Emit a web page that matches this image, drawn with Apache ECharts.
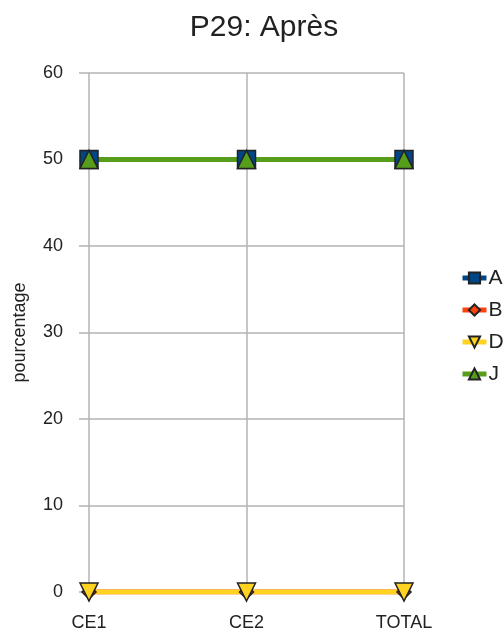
<!DOCTYPE html>
<html><head><meta charset="utf-8">
<script src="https://cdn.jsdelivr.net/npm/echarts@6/dist/echarts.min.js"></script>
<style>html,body{margin:0;padding:0;background:#fff}#c{width:503px;height:639px}</style>
</head><body><div id="c"></div>
<script>
const categories = ['CE1','CE2','TOTAL'];
const seriesNames = ['A','B','D','J'];
const valuesA = [50,50,50];
const valuesB = [0,0,0];
const valuesD = [0,0,0];
const valuesJ = [50,50,50];
const yTicks = [0,10,20,30,40,50,60];

const colors = ['#004586','#ff420e','#ffd320','#579d1c'];
const symbols = ['rect','diamond','path://M0,0 L10,0 L5,10 Z','triangle'];
const data = [valuesA, valuesB, valuesD, valuesJ];
const chart = echarts.init(document.getElementById('c'));
chart.setOption({
  animation:false,
  textStyle:{fontFamily:'Liberation Sans, Arial, sans-serif'},
  title:{text:'P29: Après',left:259,top:8,textAlign:'center',textStyle:{fontSize:30,fontWeight:'normal',color:'#222'}},
  grid:{left:89,right:99,top:73,bottom:47},
  legend:{orient:'vertical',left:455,top:262,itemGap:10,itemWidth:24,itemHeight:14,
    lineStyle:{width:5},
    textStyle:{fontSize:21,lineHeight:14,color:'#222',padding:[8,0,0,-3]},data:seriesNames},
  xAxis:{type:'category',data:categories,boundaryGap:false,
    axisLine:{show:false},axisTick:{show:true,length:8,lineStyle:{color:'#b3b3b3',width:1.5}},
    splitLine:{show:true,lineStyle:{color:'#b3b3b3',width:1.5}},
    axisLabel:{fontSize:18,color:'#222',margin:22}},
  yAxis:{type:'value',min:yTicks[0],max:yTicks[yTicks.length-1],interval:10,
    name:'pourcentage',nameLocation:'middle',nameGap:60,nameTextStyle:{fontSize:18,color:'#222'},
    axisLine:{show:false},axisTick:{show:true,length:10,lineStyle:{color:'#b3b3b3',width:1.5}},
    splitLine:{lineStyle:{color:'#b3b3b3',width:1.5}},
    axisLabel:{fontSize:18,color:'#222',margin:26}},
  series:seriesNames.map((n,i)=>({
    name:n,type:'line',data:data[i],color:colors[i],
    symbol:symbols[i],symbolSize:i===1?14:18,
    lineStyle:{width:5,color:colors[i]},
    itemStyle:{color:colors[i],borderColor:'#222',borderWidth:1.5}
  }))
});
</script></body></html>
